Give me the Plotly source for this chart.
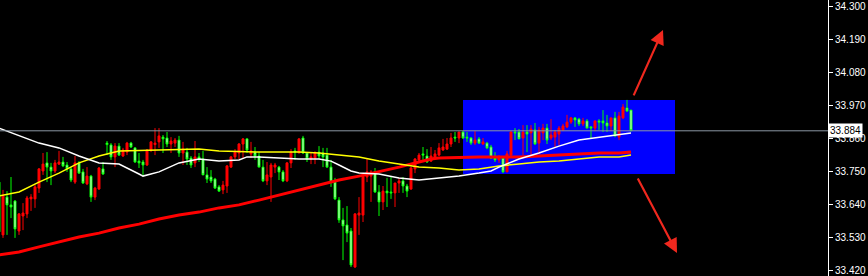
import plotly.graph_objects as go

# ---- hourly bars (index 0 = oldest visible bar) ----
bar_open = [33.713, 33.537, 33.663, 33.637, 33.650, 33.550, 33.600, 33.607, 33.657, 33.657,
            33.693, 33.750, 33.777, 33.763, 33.750, 33.773, 33.780, 33.770, 33.757, 33.713,
            33.777, 33.747, 33.707, 33.733, 33.663, 33.690, 33.757, 33.843, 33.837, 33.797,
            33.833, 33.800, 33.813, 33.843, 33.827, 33.783, 33.780, 33.770, 33.820, 33.838,
            33.847, 33.863, 33.860, 33.840, 33.843, 33.853, 33.810, 33.813, 33.793, 33.777,
            33.797, 33.790, 33.737, 33.730, 33.723, 33.697, 33.687, 33.700, 33.763, 33.797,
            33.810, 33.840, 33.857, 33.807, 33.813, 33.800, 33.763, 33.717, 33.730, 33.763,
            33.763, 33.747, 33.717, 33.777, 33.817, 33.810, 33.860, 33.810, 33.790, 33.793,
            33.813, 33.810, 33.803, 33.763, 33.713, 33.653, 33.587, 33.570, 33.550, 33.430,
            33.603, 33.603, 33.730, 33.733, 33.747, 33.680, 33.647, 33.683, 33.680, 33.677,
            33.710, 33.717, 33.700, 33.690, 33.757, 33.787, 33.807, 33.800, 33.783, 33.793,
            33.803, 33.820, 33.823, 33.840, 33.863, 33.860, 33.880, 33.863, 33.860, 33.843,
            33.857, 33.840, 33.843, 33.830, 33.793, 33.787, 33.793, 33.747, 33.803, 33.880,
            33.880, 33.860, 33.880, 33.877, 33.887, 33.843, 33.877, 33.893, 33.860, 33.863,
            33.873, 33.887, 33.897, 33.913, 33.927, 33.923, 33.907, 33.917, 33.897, 33.893,
            33.917, 33.917, 33.910, 33.900, 33.927, 33.863, 33.927, 33.960, 33.953]
bar_high = [33.720, 33.687, 33.683, 33.730, 33.653, 33.610, 33.643, 33.667, 33.673, 33.703,
            33.760, 33.810, 33.813, 33.777, 33.787, 33.817, 33.797, 33.780, 33.763, 33.800,
            33.783, 33.757, 33.763, 33.737, 33.697, 33.763, 33.780, 33.850, 33.843, 33.843,
            33.843, 33.827, 33.847, 33.847, 33.830, 33.810, 33.787, 33.823, 33.850, 33.893,
            33.893, 33.870, 33.880, 33.863, 33.860, 33.867, 33.847, 33.827, 33.800, 33.850,
            33.810, 33.817, 33.763, 33.753, 33.727, 33.703, 33.717, 33.770, 33.800, 33.823,
            33.843, 33.860, 33.860, 33.847, 33.830, 33.813, 33.787, 33.780, 33.777, 33.777,
            33.767, 33.753, 33.780, 33.823, 33.827, 33.860, 33.867, 33.813, 33.810, 33.813,
            33.833, 33.827, 33.827, 33.787, 33.727, 33.663, 33.627, 33.633, 33.560, 33.610,
            33.663, 33.743, 33.793, 33.753, 33.760, 33.703, 33.700, 33.727, 33.730, 33.710,
            33.727, 33.730, 33.707, 33.763, 33.793, 33.810, 33.830, 33.823, 33.830, 33.820,
            33.843, 33.857, 33.860, 33.877, 33.880, 33.880, 33.883, 33.880, 33.863, 33.883,
            33.863, 33.860, 33.847, 33.837, 33.813, 33.803, 33.797, 33.817, 33.883, 33.893,
            33.890, 33.903, 33.903, 33.903, 33.910, 33.897, 33.907, 33.907, 33.923, 33.887,
            33.900, 33.907, 33.937, 33.930, 33.930, 33.927, 33.927, 33.923, 33.900, 33.917,
            33.923, 33.953, 33.937, 33.927, 33.947, 33.947, 33.973, 33.987, 33.953]
bar_low = [33.533, 33.527, 33.537, 33.593, 33.527, 33.537, 33.553, 33.593, 33.617, 33.627,
           33.677, 33.737, 33.713, 33.703, 33.743, 33.770, 33.763, 33.747, 33.713, 33.707,
           33.740, 33.707, 33.703, 33.647, 33.653, 33.687, 33.737, 33.803, 33.787, 33.763,
           33.800, 33.797, 33.803, 33.827, 33.777, 33.760, 33.733, 33.767, 33.813, 33.803,
           33.827, 33.810, 33.830, 33.810, 33.830, 33.797, 33.770, 33.770, 33.760, 33.763,
           33.780, 33.737, 33.710, 33.710, 33.690, 33.680, 33.673, 33.677, 33.760, 33.790,
           33.790, 33.793, 33.810, 33.793, 33.787, 33.763, 33.713, 33.703, 33.647, 33.743,
           33.720, 33.713, 33.713, 33.760, 33.787, 33.810, 33.807, 33.780, 33.773, 33.773,
           33.790, 33.763, 33.760, 33.697, 33.653, 33.577, 33.453, 33.513, 33.430, 33.427,
           33.537, 33.580, 33.713, 33.647, 33.677, 33.600, 33.620, 33.630, 33.657, 33.630,
           33.677, 33.677, 33.663, 33.687, 33.743, 33.780, 33.787, 33.777, 33.780, 33.790,
           33.800, 33.817, 33.820, 33.830, 33.847, 33.843, 33.857, 33.847, 33.837, 33.837,
           33.840, 33.837, 33.823, 33.790, 33.780, 33.777, 33.743, 33.747, 33.797, 33.853,
           33.857, 33.803, 33.813, 33.803, 33.837, 33.810, 33.853, 33.840, 33.853, 33.830,
           33.837, 33.883, 33.893, 33.907, 33.897, 33.900, 33.900, 33.893, 33.860, 33.883,
           33.887, 33.880, 33.880, 33.883, 33.863, 33.853, 33.923, 33.947, 33.884]
bar_close = [33.547, 33.667, 33.637, 33.630, 33.557, 33.607, 33.610, 33.660, 33.663, 33.697,
             33.757, 33.773, 33.763, 33.750, 33.777, 33.780, 33.767, 33.757, 33.720, 33.777,
             33.743, 33.710, 33.733, 33.663, 33.693, 33.760, 33.740, 33.838, 33.797, 33.833,
             33.803, 33.820, 33.843, 33.830, 33.780, 33.777, 33.770, 33.820, 33.847, 33.843,
             33.867, 33.857, 33.840, 33.850, 33.853, 33.810, 33.823, 33.790, 33.770, 33.797,
             33.790, 33.737, 33.723, 33.717, 33.693, 33.683, 33.703, 33.767, 33.797, 33.813,
             33.840, 33.857, 33.820, 33.817, 33.800, 33.763, 33.717, 33.737, 33.770, 33.770,
             33.747, 33.717, 33.777, 33.813, 33.813, 33.857, 33.810, 33.790, 33.797, 33.813,
             33.800, 33.797, 33.763, 33.713, 33.657, 33.587, 33.567, 33.543, 33.437, 33.607,
             33.610, 33.737, 33.747, 33.747, 33.680, 33.647, 33.683, 33.677, 33.677, 33.710,
             33.717, 33.700, 33.683, 33.760, 33.790, 33.803, 33.803, 33.780, 33.800, 33.807,
             33.827, 33.830, 33.840, 33.860, 33.860, 33.880, 33.860, 33.860, 33.843, 33.853,
             33.843, 33.847, 33.827, 33.793, 33.787, 33.797, 33.747, 33.807, 33.880, 33.877,
             33.857, 33.880, 33.873, 33.890, 33.840, 33.887, 33.893, 33.853, 33.870, 33.880,
             33.893, 33.900, 33.913, 33.927, 33.920, 33.907, 33.917, 33.893, 33.893, 33.917,
             33.913, 33.910, 33.900, 33.927, 33.867, 33.933, 33.963, 33.950, 33.884]
bar_index = list(range(len(bar_open)))

# ---- moving averages (bar index, price) ----
fast_ma_idx = [0, 5, 10, 15, 20, 25, 30, 35, 36, 40, 45, 50, 55, 60, 62, 65, 70, 75, 80, 83,
               85, 88, 90, 95, 100, 105, 110, 115, 120, 123, 125, 127, 130, 135, 140, 145,
               150, 155, 158]
fast_ma = [33.893, 33.867, 33.843, 33.827, 33.800, 33.777, 33.773, 33.740, 33.733, 33.747,
           33.777, 33.790, 33.783, 33.787, 33.797, 33.797, 33.793, 33.790, 33.790, 33.783,
           33.770, 33.750, 33.743, 33.740, 33.727, 33.720, 33.727, 33.733, 33.743, 33.750,
           33.763, 33.773, 33.790, 33.810, 33.833, 33.853, 33.863, 33.873, 33.877]

mid_ma_idx = [0, 5, 10, 15, 20, 25, 30, 40, 50, 55, 65, 75, 80, 85, 90, 95, 100, 105, 110,
              115, 120, 125, 130, 135, 140, 145, 150, 155, 158]
mid_ma = [33.667, 33.680, 33.713, 33.743, 33.777, 33.800, 33.817, 33.820, 33.823, 33.817,
          33.813, 33.813, 33.810, 33.803, 33.797, 33.783, 33.773, 33.763, 33.760, 33.753,
          33.757, 33.767, 33.773, 33.780, 33.783, 33.790, 33.797, 33.797, 33.803]

slow_ma_idx = [0, 5, 10, 15, 20, 25, 30, 35, 40, 45, 50, 55, 60, 65, 70, 75, 80, 85, 90, 95,
               100, 105, 108, 110, 120, 130, 135, 140, 145, 150, 155, 158]
slow_ma = [33.470, 33.480, 33.497, 33.513, 33.530, 33.543, 33.560, 33.573, 33.590, 33.603,
           33.613, 33.627, 33.637, 33.653, 33.670, 33.687, 33.703, 33.720, 33.733, 33.747,
           33.763, 33.780, 33.790, 33.793, 33.797, 33.797, 33.800, 33.803, 33.807, 33.810,
           33.810, 33.813]

# ---- price scale ----
price_ticks = [33.420, 33.530, 33.640, 33.750, 33.860, 33.970, 34.080, 34.190, 34.300]
price_range = [33.400, 34.320]
bar_range = [0.25, 207.25]

# ---- drawn objects ----
zone_bars = [116, 169]
zone_prices = [33.740, 33.987]
up_arrow = {"tail": (158.5, 33.997), "tip": (166.0, 34.220)}
down_arrow = {"tail": (159.5, 33.730), "tip": (169.5, 33.477)}

last_price = bar_close[-1]

fig = go.Figure()

fig.add_trace(go.Candlestick(
    x=bar_index, open=bar_open, high=bar_high, low=bar_low, close=bar_close,
    increasing=dict(line=dict(color="#FF0000", width=1), fillcolor="#FF0000"),
    decreasing=dict(line=dict(color="#00FF00", width=1), fillcolor="#F2FFF2"),
    whiskerwidth=0, hoverinfo="skip",
))

fig.add_trace(go.Scatter(x=slow_ma_idx, y=slow_ma, mode="lines",
                         line=dict(color="#FF0000", width=3), hoverinfo="skip"))
fig.add_trace(go.Scatter(x=mid_ma_idx, y=mid_ma, mode="lines",
                         line=dict(color="#FFFF00", width=1.5), hoverinfo="skip"))
fig.add_trace(go.Scatter(x=fast_ma_idx, y=fast_ma, mode="lines",
                         line=dict(color="#FFFFFF", width=1.5), hoverinfo="skip"))

# blue zone behind the bars
fig.add_shape(type="rect", xref="x", yref="y",
              x0=zone_bars[0], x1=zone_bars[1], y0=zone_prices[0], y1=zone_prices[1],
              fillcolor="#0000FF", line=dict(width=0), layer="below")

# bid line
fig.add_shape(type="line", xref="paper", yref="y", x0=0, x1=1,
              y0=last_price, y1=last_price,
              line=dict(color="#8A96A3", width=1), layer="above")

for arrow in (up_arrow, down_arrow):
    fig.add_annotation(
        x=arrow["tip"][0], y=arrow["tip"][1],
        ax=arrow["tail"][0], ay=arrow["tail"][1],
        xref="x", yref="y", axref="x", ayref="y",
        text="", showarrow=True, arrowhead=2, arrowsize=1.3,
        arrowwidth=2.2, arrowcolor="#F0281E",
    )

# current price tag on the scale
fig.add_annotation(
    x=1, xref="paper", xanchor="left", y=last_price, yref="y",
    text=f"{last_price:.3f}", showarrow=False,
    bgcolor="#FFFFFF", borderpad=1,
    font=dict(family="Liberation Sans", size=10, color="#000000"),
)

fig.update_layout(
    width=868, height=276,
    margin=dict(l=0, r=40, t=0, b=0),
    paper_bgcolor="#000000", plot_bgcolor="#000000",
    showlegend=False,
    xaxis=dict(range=bar_range, visible=False, rangeslider=dict(visible=False),
               fixedrange=True),
    yaxis=dict(
        range=price_range, side="right",
        tickvals=price_ticks, ticktext=[f"{v:.3f}" for v in price_ticks],
        showgrid=False, zeroline=False,
        showline=True, linecolor="#FFFFFF", linewidth=1,
        ticks="outside", ticklen=4, tickcolor="#FFFFFF", tickwidth=1,
        tickfont=dict(family="Liberation Sans", size=10, color="#FFFFFF"),
        fixedrange=True,
    ),
)

fig.write_html("out.html")
